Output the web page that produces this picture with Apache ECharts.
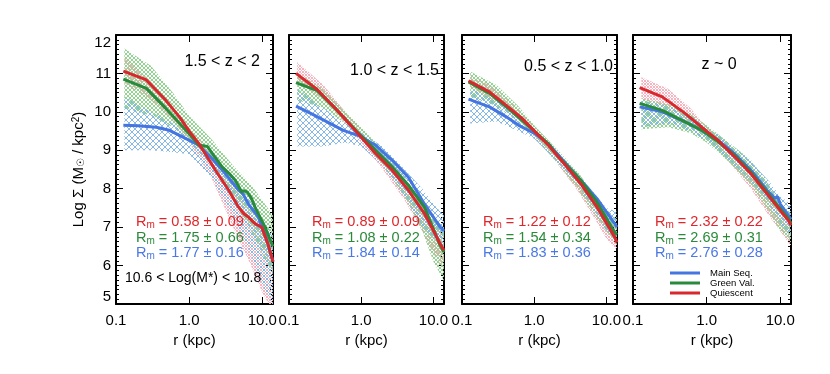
<!DOCTYPE html>
<html>
<head>
<meta charset="utf-8">
<script src="https://cdn.jsdelivr.net/npm/echarts@6/dist/echarts.min.js"></script>
<style>
html, body { margin: 0; background: #fff; }
#chart { width: 830px; height: 374px; }
</style>
</head>
<body>
<div id="chart"></div>
<script>
// names and labels
const seriesNames = ['Main Seq.', 'Green Val.', 'Quiescent'];
const zLabels = ['1.5 < z < 2', '1.0 < z < 1.5', '0.5 < z < 1.0', 'z ~ 0'];
const massLabel = '10.6 < Log(M*) < 10.8';
// Rm values per panel: [quiescent, green valley, main sequence]
const rmValues = [
    ['0.58 ± 0.09', '1.75 ± 0.66', '1.77 ± 0.16'],
    ['0.89 ± 0.09', '1.08 ± 0.22', '1.84 ± 0.14'],
    ['1.22 ± 0.12', '1.54 ± 0.34', '1.83 ± 0.36'],
    ['2.32 ± 0.22', '2.69 ± 0.31', '2.76 ± 0.28']
];
const yTicks = [5, 12];
const xTicks = [0.1, 14];

// profiles [r (kpc), log Sigma]
const p1Blue = [[0.126,9.65],[0.2,9.64],[0.355,9.6],[0.537,9.52],[0.81,9.35],[1.36,9.13],[2.07,8.78],[3.13,8.39],[4.74,7.96],[5.5,7.85],[6.46,7.6],[8.83,7.26],[11,6.8],[14,6.1]];
const p1Green = [[0.126,10.85],[0.26,10.61],[0.48,10.09],[1.0,9.43],[1.36,9.13],[1.55,9.12],[1.77,9.1],[2.2,8.85],[2.82,8.57],[3.5,8.4],[4.27,8.22],[5.25,7.91],[5.6,7.95],[6.2,7.92],[7.1,7.75],[7.94,7.52],[10.9,7.0],[13.4,6.57],[14,6.5]];
const p1Red = [[0.126,11.06],[0.26,10.83],[0.48,10.3],[0.75,9.85],[1.0,9.5],[1.36,9.17],[1.8,8.8],[2.29,8.48],[3.47,7.96],[4.74,7.52],[5.6,7.35],[6.46,7.26],[7.94,7.09],[9.78,7.0],[12,6.55],[14,6.1]];

const p2Blue = [[0.125,10.15],[0.2,9.96],[0.337,9.74],[0.565,9.52],[0.95,9.37],[1.59,9.13],[2.68,8.74],[4.5,8.3],[7.5,7.6],[12.4,7.0],[14,6.9]];
const p2Green = [[0.125,10.76],[0.246,10.55],[0.46,10.05],[0.857,9.5],[1.59,9.0],[2.68,8.57],[4.5,8.09],[7.5,7.52],[12.4,6.52],[14,6.35]];
const p2Red = [[0.125,11.0],[0.246,10.58],[0.46,10.05],[0.857,9.48],[1.59,8.91],[2.68,8.48],[4.5,7.96],[7.5,7.35],[12.4,6.57],[14,6.4]];

const p3Blue = [[0.123,10.33],[0.24,10.13],[0.41,9.87],[0.61,9.65],[1.03,9.43],[1.57,9.17],[2.6,8.7],[4.4,8.22],[7.4,7.74],[13,7.09],[14,7.0]];
const p3Green = [[0.123,10.78],[0.24,10.48],[0.41,10.13],[0.68,9.78],[1.03,9.48],[1.57,9.17],[2.13,8.85],[4.4,8.22],[7.4,7.65],[13,6.87],[14,6.8]];
const p3Red = [[0.123,10.81],[0.24,10.52],[0.41,10.17],[0.68,9.83],[1.03,9.48],[1.57,9.13],[2.6,8.65],[4.4,8.13],[7.4,7.52],[13,6.74],[14,6.6]];

const p4Blue = [[0.123,10.13],[0.25,10.0],[0.51,9.74],[0.86,9.52],[1.43,9.26],[2.4,8.91],[4.0,8.48],[6.6,7.96],[8.5,7.75],[9.2,7.8],[10,7.6],[12.9,7.3],[14,7.2]];
const p4Green = [[0.123,10.22],[0.25,10.04],[0.51,9.74],[0.86,9.52],[1.43,9.22],[2.4,8.87],[4.0,8.43],[6.6,7.91],[12.9,7.22],[14,7.1]];
const p4Red = [[0.123,10.63],[0.25,10.39],[0.51,9.96],[0.86,9.6],[1.43,9.26],[2.4,8.83],[4.0,8.39],[6.6,7.87],[12.9,7.17],[14,7.05]];

// scatter bands [r, low, high]
const p1BlueBand = [[0.13,9.0,10.4],[0.3,9.0,10.0],[0.6,8.95,9.7],[1,8.9,9.35],[2,8.3,8.9],[4,7.3,8.2],[7,6.3,7.8],[10,5.5,7.2],[14,5.0,6.8]];
const p1GreenBand = [[0.13,10.1,11.65],[0.3,9.9,11.2],[0.6,9.6,10.5],[1,9.2,9.9],[2,8.6,9.3],[4,7.7,8.6],[7,6.9,8.1],[10,6.3,7.7],[14,5.8,7.3]];
const p1RedBand = [[0.13,10.75,11.4],[0.3,10.3,10.8],[0.6,9.8,10.1],[1,9.2,9.6],[2,8.3,8.9],[4,7.0,8.1],[7,6.0,7.4],[10,5.3,7.0],[14,4.8,6.6]];

const p2BlueBand = [[0.13,9.1,10.6],[0.3,9.1,10.1],[0.6,9.2,9.7],[1,9.1,9.45],[2,8.6,9.1],[4,7.8,8.5],[7,7.0,8.0],[10,6.7,7.6],[14,6.5,7.3]];
const p2GreenBand = [[0.13,10.3,11.0],[0.3,10.1,10.6],[0.6,9.7,10.0],[1,9.3,9.6],[2,8.6,9.0],[4,7.8,8.3],[7,6.9,7.6],[10,6.1,7.2],[14,5.6,6.9]];
const p2RedBand = [[0.13,10.8,11.3],[0.3,10.3,10.7],[0.6,9.7,10.0],[1,9.2,9.5],[2,8.5,8.8],[4,7.7,8.1],[7,6.9,7.5],[10,6.3,7.1],[14,5.9,6.8]];

const p3BlueBand = [[0.13,9.7,10.6],[0.3,9.75,10.3],[0.6,9.5,9.9],[1,9.3,9.55],[2,8.75,9.0],[4,8.1,8.4],[7,7.4,7.85],[10,6.9,7.5],[14,6.7,7.4]];
const p3GreenBand = [[0.13,10.4,11.05],[0.3,10.15,10.7],[0.6,9.75,10.15],[1,9.35,9.65],[2,8.7,9.05],[4,8.0,8.45],[7,7.3,7.8],[10,6.9,7.45],[14,6.55,7.25]];
const p3RedBand = [[0.13,10.65,10.95],[0.3,10.25,10.6],[0.6,9.8,10.1],[1,9.35,9.6],[2,8.7,9.0],[4,7.95,8.3],[7,7.2,7.65],[10,6.7,7.3],[14,6.4,7.0]];

const p4BlueBand = [[0.13,9.6,10.3],[0.3,9.7,10.15],[0.6,9.5,9.9],[1,9.25,9.6],[2,8.75,9.2],[4,8.2,8.7],[7,7.6,8.2],[10,7.1,7.8],[14,6.7,7.6]];
const p4GreenBand = [[0.13,9.55,10.35],[0.3,9.6,10.2],[0.6,9.45,9.95],[1,9.2,9.65],[2,8.7,9.2],[4,8.1,8.75],[7,7.4,8.1],[10,6.9,7.6],[14,6.6,7.4]];
const p4RedBand = [[0.13,10.35,10.9],[0.3,10.1,10.6],[0.6,9.7,10.1],[1,9.3,9.6],[2,8.7,9.1],[4,8.0,8.5],[7,7.3,7.9],[10,6.9,7.5],[14,6.5,7.2]];

const panels = [
    {lines: [p1Blue, p1Green, p1Red], bands: [p1BlueBand, p1GreenBand, p1RedBand]},
    {lines: [p2Blue, p2Green, p2Red], bands: [p2BlueBand, p2GreenBand, p2RedBand]},
    {lines: [p3Blue, p3Green, p3Red], bands: [p3BlueBand, p3GreenBand, p3RedBand]},
    {lines: [p4Blue, p4Green, p4Red], bands: [p4BlueBand, p4GreenBand, p4RedBand]}
];

const lineColors = ['#4575e0', '#2a8a3c', '#d7282e'];
const FONT = 'Liberation Sans, Arial, Helvetica, sans-serif';

/**
 * crosshatch tile used as a fill pattern
 */
function hatch(color, size, width) {
    const c = document.createElement('canvas');
    c.width = size;
    c.height = size;
    const g = c.getContext('2d');
    g.strokeStyle = color;
    g.lineWidth = width;
    g.beginPath();
    g.moveTo(0, 0); g.lineTo(size, size);
    g.moveTo(size, 0); g.lineTo(0, size);
    g.stroke();
    return {image: c, repeat: 'repeat'};
}
const bandFills = [hatch('#8ab8e4', 6, 1), hatch('#93d493', 4, 1), hatch('#f6b3c0', 3, 1)];

const lefts = [116, 289, 462, 633];
const widths = [157, 155, 155, 158];

const fmtLog = v => {
    const l = Math.log10(v);
    return Math.abs(l - Math.round(l)) < 1e-6 ? v.toFixed(1) : '';
};

const dom = document.getElementById('chart');
const myChart = echarts.init(dom, null, {renderer: 'canvas'});

const grid = [], xAxis = [], yAxis = [], series = [], graphic = [];

panels.forEach((panel, i) => {
    grid.push({left: lefts[i], top: 35, width: widths[i], height: 269});

    const tick = {show: true, inside: true, length: 7, lineStyle: {color: '#000', width: 1}};
    const line = {show: true, lineStyle: {color: '#000', width: 2}};
    xAxis.push({
        type: 'log', gridIndex: i, logBase: 10, min: xTicks[0], max: xTicks[1],
        name: 'r (kpc)', nameLocation: 'middle', nameGap: 27,
        nameTextStyle: {fontSize: 15, color: '#000', fontFamily: FONT},
        axisLine: line, axisTick: tick, splitLine: {show: false},
        axisLabel: {formatter: fmtLog, fontSize: 15, color: '#000', fontFamily: FONT, margin: 9, showMaxLabel: false}
    });
    xAxis.push({
        type: 'log', gridIndex: i, logBase: 10, min: xTicks[0], max: xTicks[1], position: 'top',
        axisLine: line, axisTick: tick, splitLine: {show: false}, axisLabel: {show: false}
    });
    yAxis.push({
        type: 'value', gridIndex: i, min: yTicks[0], max: yTicks[1], interval: 1,
        name: i === 0 ? 'Log Σ (M{s|☉} / kpc{p|2})' : '',
        nameLocation: 'middle', nameGap: 30,
        nameTextStyle: {
            fontSize: 15, color: '#000', fontFamily: FONT,
            rich: {
                s: {fontSize: 10, color: '#000', fontFamily: 'DejaVu Sans', verticalAlign: 'bottom', lineHeight: 12},
                p: {fontSize: 10, color: '#000', fontFamily: FONT, verticalAlign: 'top', lineHeight: 12}
            }
        },
        axisLine: line, axisTick: tick,
        minorTick: {show: true, splitNumber: 8, length: 3, lineStyle: {color: '#000'}},
        splitLine: {show: false},
        axisLabel: {
            show: i === 0, fontSize: 15, color: '#000', fontFamily: FONT, margin: 5,
            verticalAlignMaxLabel: 'top', verticalAlignMinLabel: 'bottom'
        }
    });
    yAxis.push({
        type: 'value', gridIndex: i, min: yTicks[0], max: yTicks[1], interval: 1, position: 'right',
        axisLine: line, axisTick: tick,
        minorTick: {show: true, splitNumber: 8, length: 3, lineStyle: {color: '#000'}},
        splitLine: {show: false}, axisLabel: {show: false}
    });

    // hatched bands, drawn red first so blue ends on top
    [2, 1, 0].forEach(k => {
        const band = panel.bands[k];
        series.push({
            type: 'custom', xAxisIndex: 2 * i, yAxisIndex: 2 * i, clip: true, silent: true,
            data: band, encode: {x: 0, y: [1, 2]}, z: 1,
            renderItem: function (params, api) {
                if (params.dataIndex !== 0) return;
                const top = band.map(d => api.coord([d[0], d[2]]));
                const bot = band.map(d => api.coord([d[0], d[1]])).reverse();
                return {type: 'polygon', shape: {points: top.concat(bot)}, style: {fill: bandFills[k]}};
            }
        });
    });

    [0, 1, 2].forEach(k => {
        series.push({
            name: seriesNames[k], type: 'line', xAxisIndex: 2 * i, yAxisIndex: 2 * i,
            data: panel.lines[k], showSymbol: false, symbol: 'none', smooth: false, z: 3,
            lineStyle: {color: lineColors[k], width: 3}, itemStyle: {color: lineColors[k]}
        });
    });
});

// annotations
const zPos = [[260, 62, 'right'], [439, 71, 'right'], [613, 67, 'right'], [719, 65, 'center']];
zLabels.forEach((t, i) => {
    graphic.push({
        type: 'text', x: zPos[i][0], y: zPos[i][1], z: 100,
        style: {text: t, font: '16px ' + FONT, fill: '#000', align: zPos[i][2], verticalAlign: 'middle'}
    });
});

const rmColors = ['#e0262b', '#2a8a3a', '#4a78e6'];
const rmLeft = [136, 312, 483, 655];
const rmTop = [222, 238, 253];
rmValues.forEach((vals, i) => {
    vals.forEach((v, k) => {
        graphic.push({
            type: 'text', x: rmLeft[i], y: rmTop[k], z: 100,
            style: {
                text: '{a|R}{b|m}{a| = ' + v + '}',
                verticalAlign: 'middle',
                rich: {
                    a: {fontSize: 14.5, fontFamily: FONT, fill: rmColors[k], lineHeight: 16},
                    b: {fontSize: 10, fontFamily: FONT, fill: rmColors[k], verticalAlign: 'bottom', lineHeight: 11}
                }
            }
        });
    });
});

graphic.push({
    type: 'text', x: 125, y: 278, z: 100,
    style: {text: massLabel, font: '14px ' + FONT, fill: '#000', verticalAlign: 'middle'}
});

option = {
    backgroundColor: '#fff',
    animation: false,
    grid: grid,
    xAxis: xAxis,
    yAxis: yAxis,
    legend: {
        data: seriesNames, selectedMode: false,
        orient: 'vertical', left: 665, top: 263,
        itemWidth: 30, itemHeight: 3, itemGap: 0, icon: 'rect',
        textStyle: {fontSize: 9.5, lineHeight: 10, color: '#000', fontFamily: FONT, padding: [0, 0, 0, 5]}
    },
    graphic: graphic,
    series: series
};
myChart.setOption(option);
</script>
</body>
</html>
